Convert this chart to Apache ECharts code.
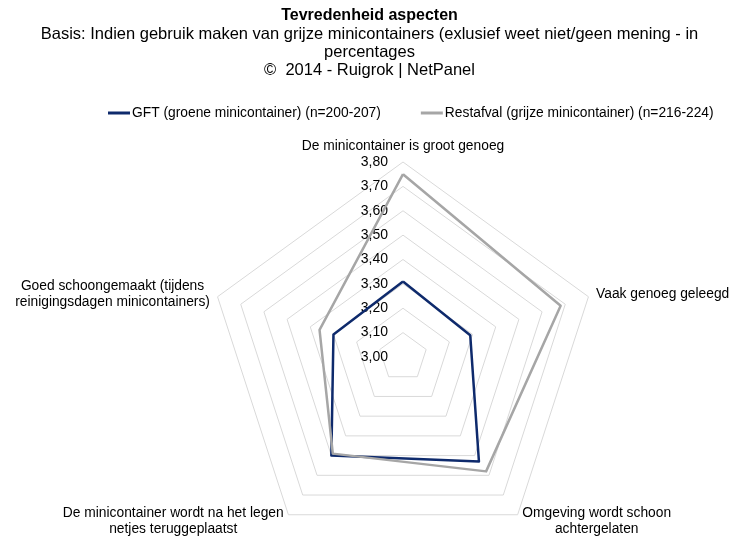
<!DOCTYPE html>
<html>
<head>
<meta charset="utf-8">
<script src="https://cdn.jsdelivr.net/npm/echarts@6/dist/echarts.min.js"></script>
<style>
  html, body { margin: 0; padding: 0; background: #fff; }
  #chart { width: 739px; height: 538px; }
</style>
</head>
<body>
<div id="chart"></div>
<script>
// aspects in echarts order (indicators run counter-clockwise from the top)
const aspects = [
  "De minicontainer is groot genoeg",
  "Goed schoongemaakt (tijdens\nreinigingsdagen minicontainers)",
  "De minicontainer wordt na het legen\nnetjes teruggeplaatst",
  "Omgeving wordt schoon\nachtergelaten",
  "Vaak genoeg geleegd"
];
const gftValues = [3.31, 3.30, 3.50, 3.53, 3.29];
const restValues = [3.75, 3.36, 3.49, 3.58, 3.68];
const tickLabels = ["3,00", "3,10", "3,20", "3,30", "3,40", "3,50", "3,60", "3,70", "3,80"];
const seriesNames = [
  "GFT (groene minicontainer) (n=200-207)",
  "Restafval (grijze minicontainer) (n=216-224)"
];

const font = "Liberation Sans, Arial, sans-serif";
const chart = echarts.init(document.getElementById("chart"));

let indicator = aspects.map(function (name, i) {
  let ind = { name: name, min: 3, max: 3.8 };
  if (i === 0) {
    ind.axisLabel = {
      show: true,
      margin: 15,
      color: "#000",
      fontSize: 14,
      fontFamily: font,
      formatter: function (v, idx) {
        return tickLabels[idx];
      }
    };
  }
  return ind;
});

let option = {
  animation: false,
  title: {
    text: "Tevredenheid aspecten",
    subtext: "Basis: Indien gebruik maken van grijze minicontainers (exlusief weet niet/geen mening - in\npercentages\n©  2014 - Ruigrok | NetPanel",
    left: "center",
    top: 3,
    itemGap: 1,
    textStyle: { color: "#000", fontSize: 16, fontWeight: "bold", fontFamily: font },
    subtextStyle: { color: "#000", fontSize: 16.5, lineHeight: 18, fontFamily: font }
  },
  legend: {
    left: 103,
    top: 101,
    icon: "rect",
    itemWidth: 22,
    itemHeight: 3,
    itemGap: 40,
    textStyle: { color: "#000", fontSize: 13.8, fontFamily: font, padding: [0, 0, 0, -3] },
    data: seriesNames
  },
  radar: {
    center: [403, 357],
    radius: 195,
    shape: "polygon",
    splitNumber: 8,
    nameGap: 8,
    axisName: {
      color: "#000",
      fontSize: 13.8,
      fontFamily: font,
      formatter: function (name) {
        return name.split("\n").map(function (l) { return "{c|" + l + "}"; }).join("\n");
      },
      rich: {
        c: { align: "center", color: "#000", fontSize: 13.8, lineHeight: 16, fontFamily: font }
      }
    },
    axisLine: { show: false },
    axisTick: { show: false },
    axisLabel: { show: false },
    splitLine: { lineStyle: { color: "#d9d9d9", width: 1 } },
    splitArea: { show: false },
    indicator: indicator
  },
  series: [
    {
      type: "radar",
      symbol: "none",
      data: [
        {
          name: seriesNames[0],
          value: gftValues,
          itemStyle: { color: "#0e2a6c" },
          lineStyle: { color: "#0e2a6c", width: 2.5 }
        },
        {
          name: seriesNames[1],
          value: restValues,
          itemStyle: { color: "#a6a6a6" },
          lineStyle: { color: "#a6a6a6", width: 2.5 }
        }
      ]
    }
  ]
};

chart.setOption(option);
</script>
</body>
</html>
